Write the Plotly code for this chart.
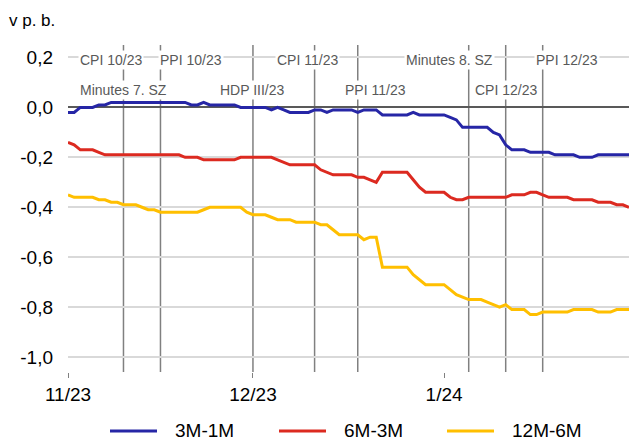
import pandas as pd
import plotly.graph_objects as go

# Daily spreads, 1 Nov 2023 - 31 Jan 2024 (percentage points)
dates = pd.date_range("2023-11-01", "2024-01-31", freq="D")

spread_3m_1m = [
    -0.02, -0.02, 0.00, 0.00, 0.00, 0.01, 0.01, 0.02, 0.02, 0.02,
    0.02, 0.02, 0.02, 0.02, 0.02, 0.02, 0.02, 0.02, 0.02, 0.02,
    0.01, 0.01, 0.02, 0.01, 0.01, 0.01, 0.01, 0.01, 0.00, 0.00,
    0.00, 0.00, 0.00, -0.01, 0.00, -0.01, -0.02, -0.02, -0.02, -0.02,
    -0.01, -0.01, -0.02, -0.01, -0.01, -0.01, -0.01, -0.02, -0.01, -0.01,
    -0.01, -0.03, -0.03, -0.03, -0.03, -0.03, -0.02, -0.03, -0.03, -0.03,
    -0.03, -0.03, -0.04, -0.05, -0.08, -0.08, -0.08, -0.08, -0.08, -0.10,
    -0.11, -0.15, -0.17, -0.17, -0.17, -0.18, -0.18, -0.18, -0.18, -0.19,
    -0.19, -0.19, -0.19, -0.20, -0.20, -0.20, -0.19, -0.19, -0.19, -0.19,
    -0.19, -0.19,
]

spread_6m_3m = [
    -0.14, -0.15, -0.17, -0.17, -0.17, -0.18, -0.19, -0.19, -0.19, -0.19,
    -0.19, -0.19, -0.19, -0.19, -0.19, -0.19, -0.19, -0.19, -0.19, -0.20,
    -0.20, -0.20, -0.21, -0.21, -0.21, -0.21, -0.21, -0.21, -0.20, -0.20,
    -0.20, -0.20, -0.20, -0.20, -0.21, -0.22, -0.23, -0.23, -0.23, -0.23,
    -0.23, -0.25, -0.26, -0.27, -0.27, -0.27, -0.27, -0.28, -0.28, -0.29,
    -0.30, -0.26, -0.26, -0.26, -0.26, -0.26, -0.29, -0.32, -0.34, -0.34,
    -0.34, -0.34, -0.36, -0.37, -0.37, -0.36, -0.36, -0.36, -0.36, -0.36,
    -0.36, -0.36, -0.35, -0.35, -0.35, -0.34, -0.34, -0.35, -0.36, -0.36,
    -0.36, -0.36, -0.37, -0.37, -0.37, -0.37, -0.38, -0.38, -0.38, -0.39,
    -0.39, -0.40,
]

spread_12m_6m = [
    -0.35, -0.36, -0.36, -0.36, -0.36, -0.37, -0.37, -0.38, -0.38, -0.39,
    -0.39, -0.39, -0.40, -0.41, -0.41, -0.42, -0.42, -0.42, -0.42, -0.42,
    -0.42, -0.42, -0.41, -0.40, -0.40, -0.40, -0.40, -0.40, -0.40, -0.42,
    -0.43, -0.43, -0.43, -0.44, -0.45, -0.45, -0.45, -0.46, -0.46, -0.46,
    -0.46, -0.47, -0.47, -0.49, -0.51, -0.51, -0.51, -0.51, -0.53, -0.52,
    -0.52, -0.64, -0.64, -0.64, -0.64, -0.64, -0.67, -0.69, -0.71, -0.71,
    -0.71, -0.71, -0.73, -0.75, -0.76, -0.77, -0.77, -0.77, -0.78, -0.79,
    -0.80, -0.79, -0.81, -0.81, -0.81, -0.83, -0.83, -0.82, -0.82, -0.82,
    -0.82, -0.82, -0.81, -0.81, -0.81, -0.81, -0.82, -0.82, -0.82, -0.81,
    -0.81, -0.81,
]

series_names = ["3M-1M", "6M-3M", "12M-6M"]
series_colors = ["#2626a6", "#dc2a20", "#ffbf00"]

# Release dates marked by vertical lines
event_dates = ["2023-11-10", "2023-11-16", "2023-12-01", "2023-12-11",
               "2023-12-18", "2024-01-05", "2024-01-11", "2024-01-17"]

# Event labels: (text, date, row, horizontal shift in px)
event_labels = [
    ("CPI 10/23", "2023-11-10", 0, -12),
    ("PPI 10/23", "2023-11-16", 0, 31),
    ("CPI 11/23", "2023-12-11", 0, -7),
    ("Minutes 8. SZ", "2024-01-05", 0, -19),
    ("PPI 12/23", "2024-01-17", 0, 24),
    ("Minutes 7. SZ", "2023-11-10", 1, 0),
    ("HDP III/23", "2023-12-01", 1, 0),
    ("PPI 11/23", "2023-12-18", 1, 18),
    ("CPI 12/23", "2024-01-11", 1, 0),
]
label_rows = [0.19, 0.07]

y_ticks = [0.2, 0.0, -0.2, -0.4, -0.6, -0.8, -1.0]
y_tick_text = ["0,2", "0,0", "-0,2", "-0,4", "-0,6", "-0,8", "-1,0"]
x_ticks = ["2023-11-01", "2023-12-01", "2024-01-01"]
x_tick_text = ["11/23", "12/23", "1/24"]

FONT = "Liberation Sans, Arial, sans-serif"
W, H = 629, 442
M_L, M_R, M_T, M_B = 68, 0, 45, 70
PW, PH = W - M_L - M_R, H - M_T - M_B


def px_to_paper(px, py):
    return (px - M_L) / PW, (H - M_B - py) / PH


fig = go.Figure()
for name, color, vals in zip(series_names, series_colors,
                             [spread_3m_1m, spread_6m_3m, spread_12m_6m]):
    fig.add_trace(go.Scatter(x=dates, y=vals, mode="lines", name=name,
                             showlegend=False,
                             line=dict(color=color, width=3)))

for d in event_dates:
    fig.add_shape(type="line", xref="x", yref="paper", x0=d, x1=d, y0=0, y1=1,
                  line=dict(color="#808080", width=1.5), layer="between")

for text, d, row, shift in event_labels:
    fig.add_annotation(x=d, y=label_rows[row], text=text, showarrow=False,
                       xshift=shift, bgcolor="white", borderpad=1,
                       font=dict(family=FONT, size=14, color="#595959"))

# Axis unit label
ux, uy = px_to_paper(7, 20)
fig.add_annotation(xref="paper", yref="paper", x=ux, y=uy,
                   xanchor="left", yanchor="middle", text="v p. b.",
                   showarrow=False, font=dict(family=FONT, size=17, color="#000"))

# Legend row below the axis
legend_starts = [110, 279, 447]
for name, color, x0 in zip(series_names, series_colors, legend_starts):
    lx0, ly = px_to_paper(x0, 431)
    lx1, _ = px_to_paper(x0 + 47, 431)
    fig.add_shape(type="line", xref="paper", yref="paper", x0=lx0, x1=lx1,
                  y0=ly, y1=ly, line=dict(color=color, width=3))
    tx, _ = px_to_paper(x0 + 63, 431)
    fig.add_annotation(xref="paper", yref="paper", x=tx, y=ly, text=name,
                       xanchor="left", yanchor="middle", showarrow=False,
                       font=dict(family=FONT, size=19, color="#000"))

fig.update_layout(
    template="none",
    width=W, height=H,
    margin=dict(l=M_L, r=M_R, t=M_T, b=M_B, pad=0, autoexpand=False),
    paper_bgcolor="white", plot_bgcolor="white",
    font=dict(family=FONT, size=19, color="#000"),
    showlegend=False,
    xaxis=dict(type="date", range=["2023-11-01", "2024-01-31"],
               tickvals=x_ticks, ticktext=x_tick_text, ticks="outside",
               ticklen=5, tickcolor="#808080", tickwidth=1, showgrid=False,
               showline=False, zeroline=False, automargin=False,
               tickfont=dict(family=FONT, size=19, color="#000")),
    yaxis=dict(range=[-1.06, 0.25], tickvals=y_ticks, ticktext=y_tick_text,
               showgrid=True, gridcolor="#d9d9d9", gridwidth=1.5,
               zeroline=True, zerolinecolor="#595959", zerolinewidth=1.5,
               showline=False, ticks="", ticklabelstandoff=14,
               automargin=False,
               tickfont=dict(family=FONT, size=19, color="#000")),
)

fig.write_html("out.html")
